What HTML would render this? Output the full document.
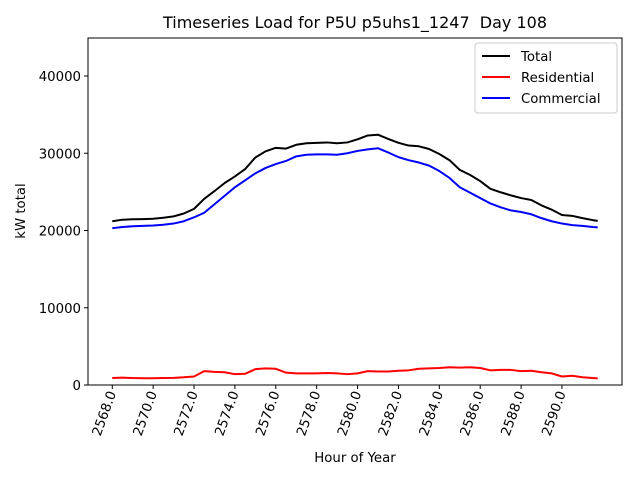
<!DOCTYPE html>
<html><head><meta charset="utf-8"><style>
body{margin:0;background:#fff;}
svg{font-family:"DejaVu Sans","Liberation Sans",sans-serif;}
</style></head><body>
<svg id="chart" width="640" height="480" viewBox="0 0 640 480" xmlns="http://www.w3.org/2000/svg">
<rect width="640" height="480" fill="#fff"/>
<text x="355" y="28" font-size="16" text-anchor="middle">Timeseries Load for P5U p5uhs1_1247 &#160;Day 108</text>
<g id="plot"></g>
<text x="355" y="462" font-size="13.3" text-anchor="middle">Hour of Year</text>
<text transform="translate(25,211) rotate(-90)" font-size="13.3" text-anchor="middle">kW total</text>
</svg>
<script>
const hours=[2568,2568.5,2569,2569.5,2570,2570.5,2571,2571.5,2572,2572.5,2573,2573.5,2574,2574.5,2575,2575.5,2576,2576.5,2577,2577.5,2578,2578.5,2579,2579.5,2580,2580.5,2581,2581.5,2582,2582.5,2583,2583.5,2584,2584.5,2585,2585.5,2586,2586.5,2587,2587.5,2588,2588.5,2589,2589.5,2590,2590.5,2591,2591.5,2591.75];
const residential=[900,950,900,880,870,900,930,1000,1100,1800,1700,1650,1400,1450,2050,2150,2100,1600,1500,1500,1500,1550,1500,1400,1500,1800,1750,1750,1850,1900,2100,2150,2200,2300,2250,2300,2200,1900,1950,1950,1800,1850,1650,1500,1100,1200,1000,900,850];
const commercial=[20300,20450,20550,20600,20650,20750,20900,21200,21700,22300,23400,24500,25600,26500,27400,28100,28600,29000,29600,29800,29850,29850,29800,30000,30300,30500,30650,30100,29500,29100,28800,28400,27700,26800,25600,24900,24200,23500,23000,22600,22400,22100,21600,21200,20900,20700,20600,20450,20400];
const total=[21200,21400,21450,21480,21520,21650,21830,22200,22800,24100,25100,26150,27000,27950,29450,30250,30700,30600,31100,31300,31350,31400,31300,31400,31800,32300,32400,31850,31350,31000,30900,30550,29900,29100,27850,27200,26400,25400,24950,24550,24200,23950,23250,22700,22000,21900,21600,21350,21250];
const xTicks=[2568,2570,2572,2574,2576,2578,2580,2582,2584,2586,2588,2590];
const yTicks=[0,10000,20000,30000,40000];
const L=88,R=622,T=38,B=385;
const xmin=2568-23.75*0.05,xmax=2591.75+23.75*0.05,ymax=44920;
const X=h=>L+(h-xmin)/(xmax-xmin)*(R-L);
const Y=v=>B-v/ymax*(B-T);
const NS="http://www.w3.org/2000/svg";
const g=document.getElementById('plot');
function mk(t,a){const e=document.createElementNS(NS,t);for(const k in a)e.setAttribute(k,a[k]);g.appendChild(e);return e;}
const frame=mk('rect',{x:L,y:T,width:R-L,height:B-T,fill:'none',stroke:'#000','stroke-width':1});


xTicks.forEach(t=>{const x=X(t);
const tk=mk('line',{x1:x,x2:x,y1:B,y2:B+4,stroke:'#000'});


const tx=mk('text',{transform:`translate(${x+4},${B+8}) rotate(-70)`,'font-size':13.3,'text-anchor':'end'});
tx.textContent=t.toFixed(1);

});
yTicks.forEach(t=>{const y=Y(t);
const tk=mk('line',{x1:L-4,x2:L,y1:y,y2:y,stroke:'#000'});


const tx=mk('text',{x:L-7,y:y+5,'font-size':13.3,'text-anchor':'end'});
tx.textContent=t;

});
[[total,'#000','total-line'],[residential,'#f00','residential-line'],[commercial,'#00f','commercial-line']].forEach(([d,c,n])=>{
const p=mk('polyline',{points:d.map((v,i)=>X(hours[i])+','+Y(v)).join(' '),fill:'none',stroke:c,'stroke-width':2,'stroke-linejoin':'round'});

});
const lg=mk('rect',{x:475,y:43,width:142,height:70,fill:'#fff',stroke:'#ccc',rx:3});


[['Total','#000'],['Residential','#f00'],['Commercial','#00f']].forEach(([n,c],i)=>{const y=56+i*21;
const l=mk('line',{x1:482,x2:510,y1:y,y2:y,stroke:c,'stroke-width':2});


const t=mk('text',{x:521,y:y+5,'font-size':13.3});t.textContent=n;

});
</script>
</body></html>
